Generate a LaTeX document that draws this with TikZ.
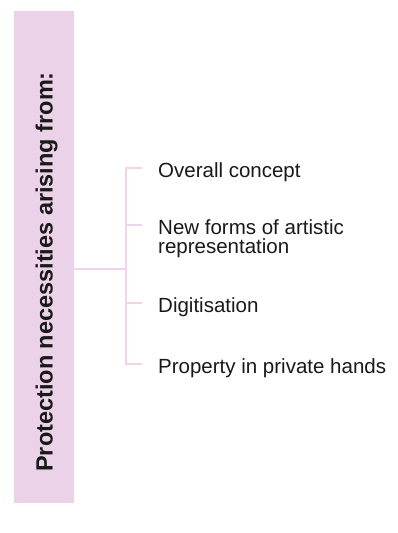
\documentclass[tikz,border=0pt]{standalone}
\usepackage{fontspec}
\setmainfont{Liberation Sans}
\definecolor{pinkfill}{RGB}{236,210,232}
\definecolor{pinkline}{RGB}{240,212,236}
\definecolor{txt}{RGB}{25,25,25}
\begin{document}
\begin{tikzpicture}[x=1pt,y=-1pt,
  conn/.style={draw=pinkline,line width=2pt},
  item/.style={anchor=base west,inner sep=0pt,text=txt,font=\fontsize{20.5}{19}\selectfont,align=left}]
\useasboundingbox (0,0) rectangle (398,533);
\fill[pinkfill] (14,11) rectangle (74,503);
\node[rotate=90,anchor=base,text=txt,font=\bfseries\fontsize{23.5}{26}\selectfont,inner sep=0pt] (title) at (52.7,272) {Protection necessities arising from:};
\coordinate (boxr) at (74,269);
\coordinate (fork) at (125.5,269);
\coordinate (vt) at (125.5,168.3);
\coordinate (vb) at (125.5,364.3);
\coordinate (t1) at (142,168.3);
\coordinate (t2) at (142,224.7);
\coordinate (t3) at (142,303.3);
\coordinate (t4) at (142,364.3);
\node[item] (a) at (158,177) {Overall concept};
\node[item] (b) at (158,253.3) {New forms of artistic\\representation};
\node[item] (c) at (158,312) {Digitisation};
\node[item] (d) at (158,373) {Property in private hands};
\draw[conn] (boxr) -- (fork);
\draw[conn] (t1) -- (vt) -- (vb) -- (t4);
\draw[conn] (fork |- t2) -- (t2);
\draw[conn] (fork |- t3) -- (t3);
\end{tikzpicture}
\end{document}
